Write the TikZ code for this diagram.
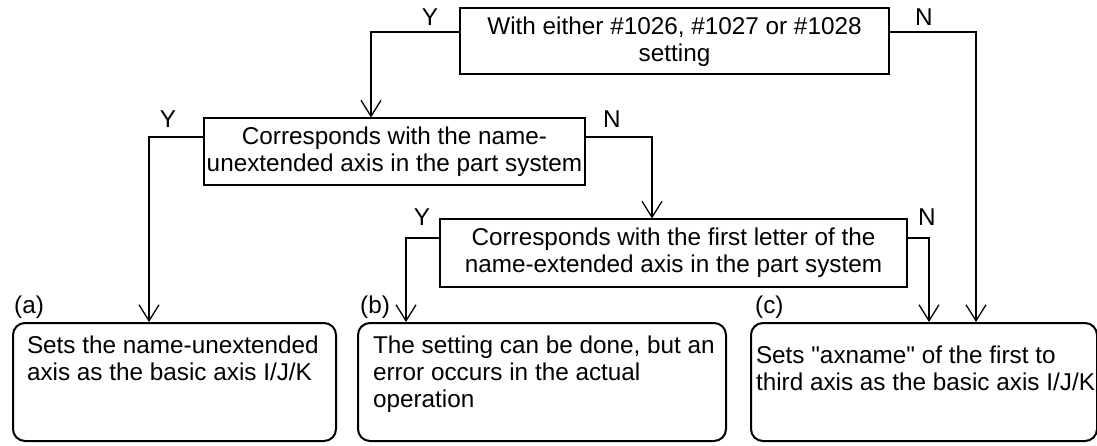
\documentclass[tikz,border=0pt]{standalone}
\usepackage{fontspec}
\setmainfont{Liberation Sans}
\usetikzlibrary{arrows.meta}
\begin{document}
\begin{tikzpicture}[x=1pt,y=-1pt,
  every node/.style={font=\fontsize{24.3}{27}\selectfont, inner sep=0pt},
  decision/.style={draw, line width=2pt, align=center},
  result/.style={draw, line width=2pt, rounded corners=12pt, anchor=north west, inner sep=0pt},
  conn/.style={line width=1.3pt},
  arr/.style={conn, -{Straight Barb[length=16pt,width=20pt,line width=1.3pt]}},
  yn/.style={anchor=base},
  tag/.style={anchor=base west}]
\useasboundingbox (0,0) rectangle (1097,446);
% decision boxes
\node[decision, minimum width=429pt, minimum height=66pt] (top) at (674.5,41.5) {With either \#1026, \#1027 or \#1028\\setting};
\node[decision, minimum width=381pt, minimum height=67pt] (q2) at (394.5,152) {Corresponds with the name-\\unextended axis in the part system};
\node[decision, minimum width=467pt, minimum height=67pt] (q3) at (673.5,253) {Corresponds with the first letter of the\\name-extended axis in the part system};
% result boxes
\node[result] (ra) at (12,322) {\parbox[t][118pt][t]{323pt}{\vspace{13pt}\hspace*{14pt}\parbox[t]{305pt}{\raggedright Sets the name-unextended\\axis as the basic axis I/J/K}}};
\node[result] (rb) at (357,322) {\parbox[t][118pt][t]{368pt}{\vspace{13pt}\hspace*{15pt}\parbox[t]{350pt}{\raggedright The setting can be done, but an\\error occurs in the actual\\operation}}};
\node[result] (rc) at (750,322) {\parbox[t][118pt][t]{346pt}{\vspace{23pt}\hspace*{5pt}\parbox[t]{345pt}{\raggedright Sets \textquotedbl axname\textquotedbl{} of the first to\\third axis as the basic axis I/J/K}}};
% tags
\node[tag] (ta) at (14,313) {(a)};
\node[tag] (tb) at (360,313) {(b)};
\node[tag] (tc) at (755,313) {(c)};
% connectors
\draw[arr] (top.west |- 0,32) -| (q2.north -| 371,0);
\draw[arr] (top.east |- 0,32) -| (rc.north -| 976,0);
\draw[arr] (q2.west |- 0,137) -| (ra.north -| 149,0);
\draw[arr] (q2.east |- 0,137) -| (q3.north -| 652,0);
\draw[arr] (q3.west |- 0,238) -| (rb.north -| 406,0);
\draw[arr] (q3.east |- 0,238) -| (rc.north -| 929,0);
% Y / N labels
\node[yn] (y1) at (430,26) {Y};
\node[yn] (n1) at (924,26) {N};
\node[yn] (y2) at (168,128) {Y};
\node[yn] (n2) at (612,128) {N};
\node[yn] (y3) at (422,226) {Y};
\node[yn] (n3) at (927,226) {N};
\end{tikzpicture}
\end{document}
